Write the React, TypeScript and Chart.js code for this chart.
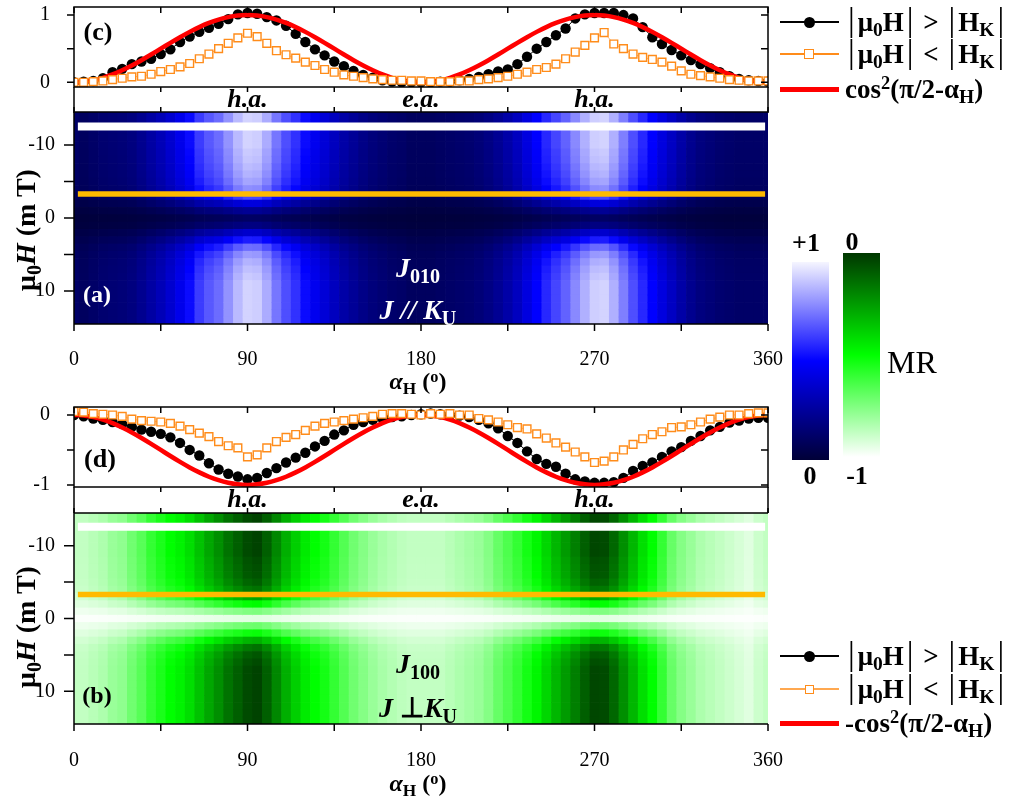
import { useEffect, useRef } from 'react'
import Chart from 'chart.js/auto'

const SERIF = '"Liberation Serif", "Times New Roman", serif'

// angle grid (deg) shared by all panels
const ANGLES = [
  0, 5, 10, 15, 20, 25, 30, 35, 40, 45, 50, 55, 60, 65, 70, 75, 80, 85, 90, 95, 100, 105, 110, 115, 120,
  125, 130, 135, 140, 145, 150, 155, 160, 165, 170, 175, 180, 185, 190, 195, 200, 205, 210, 215, 220, 225,
  230, 235, 240, 245, 250, 255, 260, 265, 270, 275, 280, 285, 290, 295, 300, 305, 310, 315, 320, 325, 330,
  335, 340, 345, 350, 355, 360,
]
// field rows (mT) of the maps
const FIELDS = [-14, -13, -12, -11, -10, -9, -8, -7, -6, -5, -4, -3, -2, -1, 0, 1, 2, 3, 4, 5, 6, 7, 8, 9, 10, 11, 12, 13, 14]

const ANGLE_TICKS = [0, 45, 90, 135, 180, 225, 270, 315, 360]
const AXIS_NAMES = ['', '', 'h.a.', '', 'e.a.', '', 'h.a.', '', '']
const ANGLE_LABELS = ['0', '', '90', '', '180', '', '270', '', '360']
const FIELD_TICKS = [-10, -5, 0, 5, 10]
const FIELD_LABELS = ['-10', '', '0', '', '10']

// panel (c), J // K_U
const FIT_C = [
  0, 0.008, 0.03, 0.067, 0.117, 0.179, 0.25, 0.329, 0.413, 0.5, 0.587, 0.671, 0.75, 0.821, 0.883, 0.933, 0.97, 0.992, 1,
  0.992, 0.97, 0.933, 0.883, 0.821, 0.75, 0.671, 0.587, 0.5, 0.413, 0.329, 0.25, 0.179, 0.117, 0.067, 0.03, 0.008, 0,
  0.008, 0.03, 0.067, 0.117, 0.179, 0.25, 0.329, 0.413, 0.5, 0.587, 0.671, 0.75, 0.821, 0.883, 0.933, 0.97, 0.992, 1,
  0.992, 0.97, 0.933, 0.883, 0.821, 0.75, 0.671, 0.587, 0.5, 0.413, 0.329, 0.25, 0.179, 0.117, 0.067, 0.03, 0.008, 0,
]
const HIGH_C = [
  0, 0.01, 0.02, 0.06, 0.15, 0.2, 0.27, 0.31, 0.35, 0.42, 0.49, 0.6, 0.68, 0.75, 0.81, 0.87, 0.94, 1.01, 1.03,
  1.02, 0.97, 0.92, 0.84, 0.72, 0.6, 0.49, 0.4, 0.31, 0.24, 0.17, 0.11, 0.07, 0.03, 0.01, 0, 0, 0,
  0, 0.01, 0.01, 0.03, 0.05, 0.08, 0.12, 0.16, 0.19, 0.27, 0.38, 0.5, 0.6, 0.7, 0.8, 0.95, 1.01, 1.03,
  1.03, 1.03, 1.0, 0.95, 0.82, 0.67, 0.57, 0.48, 0.4, 0.33, 0.27, 0.21, 0.15, 0.09, 0.05, 0.03, 0.02, 0.01,
]
const LOW_C = [
  0, 0, 0.01, 0.02, 0.04, 0.06, 0.08, 0.09, 0.12, 0.16, 0.19, 0.23, 0.28, 0.35, 0.42, 0.5, 0.58, 0.66, 0.73,
  0.68, 0.58, 0.47, 0.41, 0.36, 0.3, 0.25, 0.19, 0.15, 0.11, 0.09, 0.07, 0.05, 0.04, 0.03, 0.03, 0.02, 0.02,
  0.01, 0.01, 0.01, 0.02, 0.02, 0.04, 0.05, 0.07, 0.09, 0.12, 0.15, 0.19, 0.22, 0.27, 0.35, 0.45, 0.55, 0.66,
  0.74, 0.57, 0.5, 0.42, 0.37, 0.34, 0.3, 0.24, 0.17, 0.12, 0.1, 0.08, 0.06, 0.04, 0.03, 0.02, 0.02, 0.02,
]

// panel (d), J perpendicular K_U
const FIT_D = [
  0, -0.008, -0.03, -0.067, -0.117, -0.179, -0.25, -0.329, -0.413, -0.5, -0.587, -0.671, -0.75, -0.821, -0.883, -0.933, -0.97, -0.992, -1,
  -0.992, -0.97, -0.933, -0.883, -0.821, -0.75, -0.671, -0.587, -0.5, -0.413, -0.329, -0.25, -0.179, -0.117, -0.067, -0.03, -0.008, 0,
  -0.008, -0.03, -0.067, -0.117, -0.179, -0.25, -0.329, -0.413, -0.5, -0.587, -0.671, -0.75, -0.821, -0.883, -0.933, -0.97, -0.992, -1,
  -0.992, -0.97, -0.933, -0.883, -0.821, -0.75, -0.671, -0.587, -0.5, -0.413, -0.329, -0.25, -0.179, -0.117, -0.067, -0.03, -0.008, 0,
]
const HIGH_D = [
  0, -0.02, -0.05, -0.07, -0.1, -0.13, -0.17, -0.21, -0.24, -0.27, -0.32, -0.4, -0.5, -0.58, -0.69, -0.78, -0.84, -0.88, -0.92,
  -0.9, -0.83, -0.76, -0.68, -0.61, -0.54, -0.45, -0.37, -0.28, -0.22, -0.14, -0.1, -0.07, -0.05, -0.03, -0.02, 0, 0.01,
  0.02, 0.01, 0, -0.01, -0.03, -0.07, -0.12, -0.19, -0.3, -0.4, -0.52, -0.63, -0.7, -0.74, -0.84, -0.92, -0.95, -0.97,
  -0.97, -0.96, -0.9, -0.8, -0.73, -0.68, -0.6, -0.52, -0.46, -0.37, -0.3, -0.22, -0.17, -0.11, -0.08, -0.05, -0.04, -0.04,
]
const LOW_D = [
  0.05, 0.04, 0.02, 0.01, 0, -0.02, -0.06, -0.08, -0.09, -0.1, -0.12, -0.16, -0.21, -0.26, -0.31, -0.38, -0.44, -0.47, -0.6,
  -0.57, -0.47, -0.38, -0.32, -0.28, -0.22, -0.16, -0.12, -0.1, -0.08, -0.06, -0.04, -0.02, 0.01, 0.02, 0.02, 0.01, 0,
  0.02, 0.01, 0.02, 0, 0, -0.05, -0.07, -0.1, -0.14, -0.18, -0.2, -0.27, -0.33, -0.4, -0.46, -0.53, -0.6, -0.68,
  -0.66, -0.6, -0.5, -0.42, -0.34, -0.28, -0.24, -0.18, -0.17, -0.14, -0.1, -0.06, -0.03, 0, 0, 0.02, 0.03, 0.03,
]

// map (a): column strength vs angle and row strength vs field
const MAP_A_ANGLE = [
  0.12, 0.1, 0.12, 0.14, 0.15, 0.16, 0.18, 0.22, 0.27, 0.32, 0.38, 0.45, 0.52, 0.62, 0.68, 0.72, 0.8, 0.88, 0.93,
  0.92, 0.85, 0.74, 0.66, 0.6, 0.52, 0.46, 0.4, 0.34, 0.28, 0.24, 0.2, 0.17, 0.15, 0.13, 0.12, 0.1, 0.1,
  0.1, 0.11, 0.12, 0.13, 0.14, 0.16, 0.19, 0.23, 0.28, 0.34, 0.42, 0.5, 0.58, 0.64, 0.7, 0.78, 0.86, 0.92,
  0.93, 0.86, 0.76, 0.66, 0.58, 0.5, 0.42, 0.35, 0.28, 0.22, 0.18, 0.16, 0.14, 0.13, 0.12, 0.12, 0.12, 0.12,
]
const MAP_A_FIELD = [
  1, 1, 1, 1, 1, 0.98, 0.97, 0.95, 0.93, 0.9, 0.85, 0.7, 0.45, 0.25, 0.12,
  0.2, 0.4, 0.6, 0.78, 0.88, 0.93, 0.96, 0.98, 1, 1, 1, 1, 1, 1,
]
// map (b)
const MAP_B_ANGLE = [
  0.12, 0.12, 0.14, 0.16, 0.2, 0.22, 0.28, 0.33, 0.4, 0.45, 0.5, 0.53, 0.58, 0.65, 0.72, 0.78, 0.85, 0.9, 0.95,
  0.97, 0.9, 0.8, 0.7, 0.62, 0.55, 0.5, 0.46, 0.4, 0.34, 0.28, 0.24, 0.2, 0.17, 0.15, 0.13, 0.12, 0.12,
  0.12, 0.12, 0.14, 0.16, 0.18, 0.2, 0.24, 0.3, 0.35, 0.4, 0.46, 0.52, 0.6, 0.68, 0.75, 0.82, 0.9, 0.96,
  0.95, 0.88, 0.78, 0.68, 0.58, 0.5, 0.4, 0.3, 0.24, 0.2, 0.16, 0.14, 0.12, 0.1, 0.08, 0.06, 0.1, 0.12,
]
const MAP_B_FIELD = [
  1, 1, 1, 1, 1, 1, 0.98, 0.97, 0.96, 0.93, 0.88, 0.75, 0.52, 0.26, 0.06,
  0.3, 0.5, 0.72, 0.88, 0.95, 0.98, 1, 1, 1, 1, 1, 1, 1, 1,
]
// fields of the two cuts marked on each map: |H|>|HK| (white), |H|<|HK| (orange)
const CUTS_A = [-12.5, -3.3]
const CUTS_B = [-12.6, -3.3]

type Stop = [number, number[]]
const BLUE_STOPS: Stop[] = [[0, [0, 0, 55]], [0.5, [0, 0, 255]], [1, [245, 245, 255]]]
const GREEN_STOPS: Stop[] = [[0, [255, 255, 255]], [0.5, [0, 255, 0]], [1, [0, 55, 0]]]

function ramp(stops: Stop[], t: number) {
  const v = Math.max(0, Math.min(1, t))
  for (let k = 1; k < stops.length; k++) {
    const [t0, c0] = stops[k - 1]
    const [t1, c1] = stops[k]
    if (v <= t1) {
      const f = (v - t0) / (t1 - t0)
      const c = c0.map((c, i) => Math.round(c + (c1[i] - c) * f))
      return `rgb(${c[0]},${c[1]},${c[2]})`
    }
  }
  const c = stops[stops.length - 1][1]
  return `rgb(${c[0]},${c[1]},${c[2]})`
}

function gradient(stops: Stop[]) {
  const parts = [...stops].reverse().map(([t, c]) => `rgb(${c[0]},${c[1]},${c[2]}) ${(1 - t) * 100}%`)
  return `linear-gradient(to bottom, ${parts.join(', ')})`
}

const pts = (vals: number[]) => vals.map((v, i) => ({ x: ANGLES[i], y: v }))

function lineFrame(yTicks: number[]) {
  return {
    id: 'lineFrame',
    afterDraw(chart: any) {
      const { ctx, chartArea: a, scales } = chart
      ctx.save()
      ctx.strokeStyle = '#000'
      ctx.lineWidth = 1.5
      ctx.strokeRect(a.left, a.top, a.right - a.left, a.bottom - a.top)
      ctx.beginPath()
      ctx.moveTo(a.left, a.bottom)
      ctx.lineTo(a.left, a.bottom + 26)
      ctx.moveTo(a.right, a.bottom)
      ctx.lineTo(a.right, a.bottom + 26)
      ANGLE_TICKS.forEach((v) => {
        const px = scales.x.getPixelForValue(v)
        ctx.moveTo(px, a.top)
        ctx.lineTo(px, a.top + 6)
        ctx.moveTo(px, a.bottom)
        ctx.lineTo(px, a.bottom + 5)
      })
      yTicks.forEach((v) => {
        const py = scales.y.getPixelForValue(v)
        ctx.moveTo(a.left - 7, py)
        ctx.lineTo(a.left, py)
        ctx.moveTo(a.right - 7, py)
        ctx.lineTo(a.right, py)
      })
      ctx.stroke()
      ctx.restore()
    },
  }
}

const heatFrame = {
  id: 'heatFrame',
  afterDraw(chart: any) {
    const { ctx, chartArea: a, scales } = chart
    ctx.save()
    ctx.strokeStyle = '#000'
    ctx.lineWidth = 1.5
    ctx.beginPath()
    ctx.moveTo(a.left, a.top)
    ctx.lineTo(a.right, a.top)
    ctx.moveTo(a.left, a.top)
    ctx.lineTo(a.left, a.bottom)
    ctx.lineTo(a.right, a.bottom)
    ANGLE_TICKS.forEach((v) => {
      const px = scales.x.getPixelForValue(v)
      ctx.moveTo(px, a.bottom)
      ctx.lineTo(px, a.bottom + 7)
      ctx.moveTo(px, a.top)
      ctx.lineTo(px, a.top - 5)
    })
    FIELD_TICKS.forEach((v) => {
      const py = scales.y.getPixelForValue(v)
      ctx.moveTo(a.left - 10, py)
      ctx.lineTo(a.left, py)
    })
    ctx.stroke()
    ctx.restore()
  },
}

function heatCells(angleProfile: number[], fieldProfile: number[], stops: Stop[]) {
  return {
    id: 'heatCells',
    beforeDatasetsDraw(chart: any) {
      const { ctx, chartArea: a, scales } = chart
      ctx.save()
      ctx.beginPath()
      ctx.rect(a.left, a.top, a.right - a.left, a.bottom - a.top)
      ctx.clip()
      ANGLES.forEach((ang, i) => {
        const x0 = scales.x.getPixelForValue(ang - 2.5)
        const x1 = scales.x.getPixelForValue(ang + 2.5)
        FIELDS.forEach((f, j) => {
          const y0 = scales.y.getPixelForValue(f - 0.5)
          const y1 = scales.y.getPixelForValue(f + 0.5)
          ctx.fillStyle = ramp(stops, angleProfile[i] * fieldProfile[j])
          ctx.fillRect(Math.min(x0, x1), Math.min(y0, y1), Math.abs(x1 - x0) + 0.7, Math.abs(y1 - y0) + 0.7)
        })
      })
      ctx.restore()
    },
  }
}

const tickFont = { family: SERIF, size: 20 }

const fitX = (h: number) => (s: any) => {
  s.height = h
  s.paddingLeft = 0
  s.paddingRight = 0
}
const fitY = (s: any) => {
  s.width = 74
  s.paddingTop = 0
  s.paddingBottom = 0
}

function makeLine(canvas: HTMLCanvasElement, high: number[], fit: number[], low: number[], yMin: number, yMax: number, yTicks: number[], yLabels: string[]) {
  return new Chart(canvas, {
    type: 'scatter',
    data: {
      datasets: [
        {
          label: 'high',
          data: pts(high),
          showLine: true,
          borderColor: '#000',
          borderWidth: 1,
          pointRadius: 5.2,
          pointBackgroundColor: '#000',
          pointBorderWidth: 0,
          order: 3,
        },
        {
          label: 'fit',
          data: pts(fit),
          showLine: true,
          borderColor: '#ff0000',
          borderWidth: 4.5,
          pointRadius: 0,
          tension: 0.3,
          order: 2,
        },
        {
          label: 'low',
          data: pts(low),
          showLine: true,
          borderColor: 'rgba(255,140,30,0.6)',
          borderWidth: 1,
          pointStyle: 'rect',
          pointRadius: 5.5,
          pointBackgroundColor: '#fff',
          pointBorderColor: '#ff8c1a',
          pointBorderWidth: 1.4,
          order: 1,
        },
      ],
    },
    options: {
      animation: false,
      responsive: false,
      events: [],
      layout: { padding: { left: 0, right: 243, top: 7, bottom: 0 } },
      plugins: { legend: { display: false }, tooltip: { enabled: false } },
      scales: {
        x: {
          type: 'linear',
          min: 0,
          max: 360,
          grid: { display: false },
          border: { display: false },
          afterBuildTicks: (s: any) => {
            s.ticks = ANGLE_TICKS.map((v) => ({ value: v }))
          },
          afterFit: fitX(33),
          ticks: {
            autoSkip: false,
            maxRotation: 0,
            padding: -10,
            color: '#000',
            font: { family: SERIF, size: 26, style: 'italic', weight: 'bold' },
            callback: (_v: any, i: number) => AXIS_NAMES[i],
          },
        },
        y: {
          type: 'linear',
          min: yMin,
          max: yMax,
          grid: { display: false },
          border: { display: false },
          afterBuildTicks: (s: any) => {
            s.ticks = yTicks.map((v) => ({ value: v }))
          },
          afterFit: fitY,
          ticks: { padding: 16, color: '#000', font: tickFont, callback: (_v: any, i: number) => yLabels[i] },
        },
      },
    },
    plugins: [lineFrame(yTicks)],
  } as any)
}

function makeMap(canvas: HTMLCanvasElement, angleProfile: number[], fieldProfile: number[], stops: Stop[], cuts: number[], axisHeight: number, labelPad: number) {
  const bar = (f: number) => [{ x: 2, y: f }, { x: 358.5, y: f }]
  return new Chart(canvas, {
    type: 'scatter',
    data: {
      datasets: [
        { label: 'cut high', data: bar(cuts[0]), showLine: true, borderColor: '#ffffff', borderWidth: 8, pointRadius: 0 },
        { label: 'cut low', data: bar(cuts[1]), showLine: true, borderColor: '#ffba00', borderWidth: 5.5, pointRadius: 0 },
      ],
    },
    options: {
      animation: false,
      responsive: false,
      events: [],
      layout: { padding: { left: 0, right: 243, top: 8, bottom: 0 } },
      plugins: { legend: { display: false }, tooltip: { enabled: false } },
      scales: {
        x: {
          type: 'linear',
          min: 0,
          max: 360,
          grid: { display: false },
          border: { display: false },
          afterBuildTicks: (s: any) => {
            s.ticks = ANGLE_TICKS.map((v) => ({ value: v }))
          },
          afterFit: fitX(axisHeight),
          ticks: {
            autoSkip: false,
            maxRotation: 0,
            padding: labelPad,
            color: '#000',
            font: tickFont,
            callback: (_v: any, i: number) => ANGLE_LABELS[i],
          },
        },
        y: {
          type: 'linear',
          min: -14.5,
          max: 14.5,
          reverse: true,
          grid: { display: false },
          border: { display: false },
          afterBuildTicks: (s: any) => {
            s.ticks = FIELD_TICKS.map((v) => ({ value: v }))
          },
          afterFit: fitY,
          ticks: { padding: 11, color: '#000', font: tickFont, callback: (_v: any, i: number) => FIELD_LABELS[i] },
        },
      },
    },
    plugins: [heatCells(angleProfile, fieldProfile, stops), heatFrame],
  } as any)
}

const sub: React.CSSProperties = { fontSize: '0.72em', verticalAlign: '-0.3em', lineHeight: 0 }
const sup: React.CSSProperties = { fontSize: '0.68em', verticalAlign: '0.45em', lineHeight: 0 }
const bar: React.CSSProperties = { fontWeight: 'normal', fontSize: '1.25em', lineHeight: 0, margin: '0 3px' }

function Txt({ x, y, size, children, color = '#000', weight = 'bold', rotate = false }: any) {
  return (
    <div
      style={{
        position: 'absolute',
        left: x,
        top: y,
        transform: `translate(-50%, -50%)${rotate ? ' rotate(-90deg)' : ''}`,
        fontFamily: SERIF,
        fontSize: size,
        fontWeight: weight,
        color,
        lineHeight: 1,
        whiteSpace: 'nowrap',
      }}
    >
      {children}
    </div>
  )
}

function LegendRow({ y, kind, light }: { y: number; kind: 'dot' | 'square' | 'fit'; light: boolean }) {
  const lineColor = kind === 'dot' ? '#000' : kind === 'square' ? (light ? '#ffa850' : '#ff8c1a') : '#ff0000'
  const h = kind === 'fit' ? 5 : light ? 1.2 : 1.5
  return (
    <>
      <div style={{ position: 'absolute', left: 780, top: y - h / 2, width: 59, height: h, background: lineColor }} />
      {kind === 'dot' && (
        <div style={{ position: 'absolute', left: 804, top: y - 5.5, width: 11, height: 11, borderRadius: '50%', background: '#000' }} />
      )}
      {kind === 'square' && (
        <div
          style={{
            position: 'absolute',
            left: light ? 805 : 804,
            top: y - (light ? 4.5 : 5),
            width: light ? 9 : 10,
            height: light ? 9 : 10,
            boxSizing: 'border-box',
            border: '1.5px solid #ff8c1a',
            background: '#fff',
          }}
        />
      )}
    </>
  )
}

function Legend({ rows, fitText, light }: { rows: number[]; fitText: string; light: boolean }) {
  const text = (y: number, children: any) => (
    <div
      style={{
        position: 'absolute',
        left: 845,
        top: y,
        transform: 'translateY(-50%)',
        fontFamily: SERIF,
        fontSize: 27,
        fontWeight: 'bold',
        lineHeight: 1,
        whiteSpace: 'nowrap',
      }}
    >
      {children}
    </div>
  )
  return (
    <>
      <LegendRow y={rows[0]} kind="dot" light={light} />
      <LegendRow y={rows[1]} kind="square" light={light} />
      <LegendRow y={rows[2]} kind="fit" light={light} />
      {text(
        rows[0],
        <>
          <span style={bar}>|</span>μ<span style={sub}>0</span>H<span style={bar}>|</span> &gt; <span style={bar}>|</span>H
          <span style={sub}>K</span>
          <span style={bar}>|</span>
        </>,
      )}
      {text(
        rows[1],
        <>
          <span style={bar}>|</span>μ<span style={sub}>0</span>H<span style={bar}>|</span> &lt; <span style={bar}>|</span>H
          <span style={sub}>K</span>
          <span style={bar}>|</span>
        </>,
      )}
      {text(
        rows[2],
        <>
          {fitText}cos<span style={sup}>2</span>(π/2-α<span style={sub}>H</span>)
        </>,
      )}
    </>
  )
}

export default function App() {
  const cRef = useRef<HTMLCanvasElement>(null)
  const aRef = useRef<HTMLCanvasElement>(null)
  const dRef = useRef<HTMLCanvasElement>(null)
  const bRef = useRef<HTMLCanvasElement>(null)

  useEffect(() => {
    if (!cRef.current || !aRef.current || !dRef.current || !bRef.current) return
    const charts = [
      makeLine(cRef.current, HIGH_C, FIT_C, LOW_C, -0.07, 1.12, [0, 0.5, 1], ['0', '', '1']),
      makeMap(aRef.current, MAP_A_ANGLE, MAP_A_FIELD, BLUE_STOPS, CUTS_A, 70, 16),
      makeLine(dRef.current, HIGH_D, FIT_D, LOW_D, -1.03, 0.114, [-1, -0.5, 0], ['-1', '', '0']),
      makeMap(bRef.current, MAP_B_ANGLE, MAP_B_FIELD, GREEN_STOPS, CUTS_B, 77, 17),
    ]
    return () => charts.forEach((c) => c.destroy())
  }, [])

  const cv = (top: number, height: number): React.CSSProperties => ({ position: 'absolute', left: 0, top, width: 1011, height })
  const J = { fontStyle: 'italic' as const }

  return (
    <div style={{ position: 'absolute', left: 0, top: 0, width: 1011, height: 801, background: '#fff', overflow: 'hidden' }}>
      <canvas ref={cRef} width={1011} height={120} style={cv(0, 120)} />
      <canvas ref={aRef} width={1011} height={290} style={cv(104, 290)} />
      <canvas ref={dRef} width={1011} height={120} style={cv(400, 120)} />
      <canvas ref={bRef} width={1011} height={296} style={cv(505, 296)} />

      <Txt x={98} y={32} size={26}>(c)</Txt>
      <Txt x={100} y={459} size={26}>(d)</Txt>
      <Txt x={97} y={294} size={24} color="#fff">(a)</Txt>
      <Txt x={97} y={695} size={24}>(b)</Txt>

      <Txt x={418} y={268} size={28} color="#fff">
        <span style={J}>J</span>
        <span style={sub}>010</span>
      </Txt>
      <Txt x={418} y={310} size={28} color="#fff">
        <span style={J}>J // K</span>
        <span style={sub}>U</span>
      </Txt>
      <Txt x={418} y={664} size={28}>
        <span style={J}>J</span>
        <span style={sub}>100</span>
      </Txt>
      <Txt x={418} y={708} size={28}>
        <span style={J}>J</span> ⊥<span style={J}>K</span>
        <span style={sub}>U</span>
      </Txt>

      <Txt x={418} y={381} size={24}>
        <span style={J}>α</span>
        <span style={sub}>H</span> (<span style={sup}>o</span>)
      </Txt>
      <Txt x={418} y={783} size={24}>
        <span style={J}>α</span>
        <span style={sub}>H</span> (<span style={sup}>o</span>)
      </Txt>
      <Txt x={26} y={230} size={28} rotate>
        μ<span style={sub}>0</span>
        <span style={J}>H</span> (m T)
      </Txt>
      <Txt x={26} y={627} size={28} rotate>
        μ<span style={sub}>0</span>
        <span style={J}>H</span> (m T)
      </Txt>

      <div style={{ position: 'absolute', left: 792, top: 262, width: 37, height: 198, background: gradient(BLUE_STOPS) }} />
      <div style={{ position: 'absolute', left: 843, top: 253, width: 37, height: 204, background: gradient(GREEN_STOPS) }} />
      <Txt x={806} y={243} size={26}>+1</Txt>
      <Txt x={852} y={242} size={26}>0</Txt>
      <Txt x={810} y={476} size={26}>0</Txt>
      <Txt x={857} y={476} size={26}>-1</Txt>
      <Txt x={912} y={362} size={32} weight="normal">MR</Txt>

      <Legend rows={[22, 54, 89]} fitText="" light={false} />
      <Legend rows={[656, 689, 723]} fitText="-" light />
    </div>
  )
}
